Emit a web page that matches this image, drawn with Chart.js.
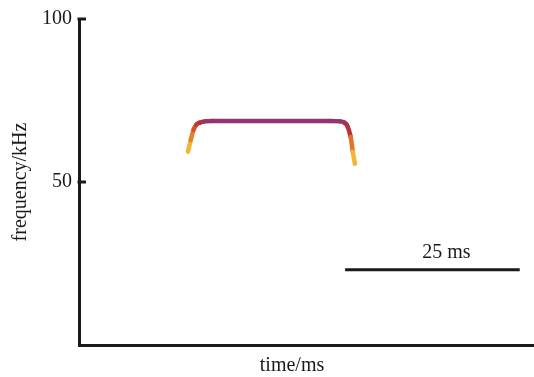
<!DOCTYPE html>
<html>
<head>
<meta charset="utf-8">
<script src="https://cdn.jsdelivr.net/npm/chart.js@4.4.0/dist/chart.umd.min.js"></script>
<style>
  html,body{margin:0;padding:0;background:#fff;}
  #wrap{width:534px;height:377px;}
</style>
</head>
<body>
<div id="wrap"><canvas id="c" width="534" height="377"></canvas></div>
<script>
// Call contour (time in ms, frequency in kHz)
const callTime = [15.6, 16.0, 16.4, 16.8, 17.3, 18.0, 19.0, 25.0, 30.0, 36.0, 37.4, 38.0, 38.4, 38.9, 39.2, 39.5];
const callFreq = [59.3, 62.9, 66.0, 67.6, 68.2, 68.6, 68.7, 68.7, 68.7, 68.7, 68.6, 68.2, 67.3, 63.8, 59.3, 55.6];
// Scale bar (25 ms)
const barTime = [38.1, 63.1];
const barFreq = [23.1, 23.1];
const barLabel = '25 ms';
// Axis
const yTicks = [50, 100];
const xTitle = 'time/ms';
const yTitle = 'frequency/kHz';

const FONT = 'Liberation Serif, Times New Roman, serif';
const INK = '#1a1a1a';

function toXY(xs, ys){ return xs.map((x,i)=>({x:x, y:ys[i]})); }

const stops = [
  [0,  [246,205,60]],
  [12, [238,160,45]],
  [22, [222,100,38]],
  [32, [185,50,50]],
  [46, [150,50,110]],
  [60, [145,52,118]]
];
function rampColor(d){
  if (d <= stops[0][0]) return 'rgb('+stops[0][1].join(',')+')';
  for (let i=1;i<stops.length;i++){
    if (d <= stops[i][0]){
      const t = (d - stops[i-1][0])/(stops[i][0]-stops[i-1][0]);
      const a = stops[i-1][1], b = stops[i][1];
      return 'rgb('+a.map((v,k)=>Math.round(v+(b[k]-v)*t)).join(',')+')';
    }
  }
  return 'rgb('+stops[stops.length-1][1].join(',')+')';
}
function segColor(ctx){
  const pts = ctx.chart.getDatasetMeta(ctx.datasetIndex).data;
  const cum = [0];
  for (let i=1;i<pts.length;i++){
    cum.push(cum[i-1] + Math.hypot(pts[i].x-pts[i-1].x, pts[i].y-pts[i-1].y));
  }
  const total = cum[cum.length-1];
  const mid = (cum[ctx.p0DataIndex] + cum[ctx.p1DataIndex]) / 2;
  return rampColor(Math.min(mid, total - mid));
}

const decor = {
  id: 'decor',
  afterDraw(chart){
    const {ctx, chartArea, scales} = chart;
    const y = scales.y, x = scales.x;
    ctx.save();
    // inward tick marks
    ctx.strokeStyle = INK;
    ctx.lineWidth = 3;
    yTicks.forEach(v=>{
      const py = y.getPixelForValue(v);
      ctx.beginPath();
      ctx.moveTo(chartArea.left - 1.5, py);
      ctx.lineTo(chartArea.left + 7, py);
      ctx.stroke();
    });
    ctx.fillStyle = INK;
    ctx.font = '20px ' + FONT;
    ctx.textAlign = 'center';
    ctx.textBaseline = 'middle';
    // scale-bar label
    const bx = (x.getPixelForValue(barTime[0]) + x.getPixelForValue(barTime[1]))/2 + 14;
    const by = y.getPixelForValue(barFreq[0]) - 17;
    ctx.fillText(barLabel, bx, by);
    // x axis title
    ctx.fillText(xTitle, (chartArea.left + chartArea.right)/2 - 14, chart.height - 11);
    ctx.restore();
  }
};

new Chart(document.getElementById('c'), {
  type: 'line',
  data: {
    datasets: [
      {
        data: toXY(callTime, callFreq),
        borderWidth: 4.5,
        borderCapStyle: 'round',
        borderJoinStyle: 'round',
        pointRadius: 0,
        cubicInterpolationMode: 'monotone',
        borderColor: '#913476',
        segment: { borderColor: segColor }
      },
      {
        data: toXY(barTime, barFreq),
        borderWidth: 3,
        borderColor: INK,
        pointRadius: 0,
        tension: 0
      }
    ]
  },
  options: {
    responsive: false,
    animation: false,
    events: [],
    layout: { padding: { top: 16, right: 1, left: 0, bottom: 0 } },
    plugins: { legend: { display: false }, tooltip: { enabled: false } },
    scales: {
      x: {
        type: 'linear',
        min: 0, max: 65,
        grid: { display: false, drawTicks: false },
        border: { display: true, color: INK, width: 3 },
        ticks: { display: false },
        title: { display: false, text: xTitle },
        afterFit(s){ s.width = s.width; s.height = 32; }
      },
      y: {
        type: 'linear',
        min: 0, max: 100,
        grid: { display: false, drawTicks: false },
        border: { display: true, color: INK, width: 3 },
        afterBuildTicks(s){ s.ticks = yTicks.map(v=>({value:v})); },
        ticks: {
          padding: 7,
          color: INK,
          font: { family: FONT, size: 20 },
          callback: v => String(v)
        },
        title: {
          display: true,
          text: yTitle,
          color: INK,
          font: { family: FONT, size: 20 },
          padding: { top: 9, bottom: 0 }
        },
        afterFit(s){ s.width = 79; }
      }
    }
  },
  plugins: [decor]
});
</script>
</body>
</html>
